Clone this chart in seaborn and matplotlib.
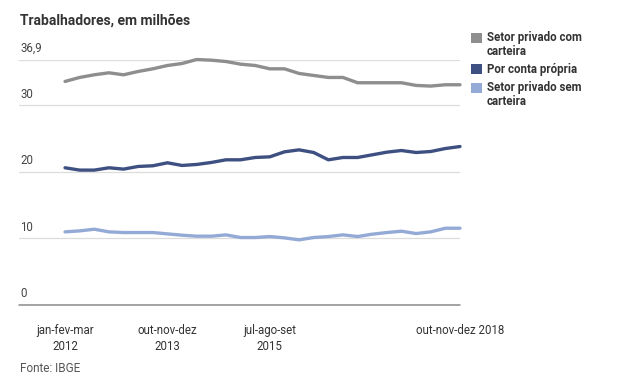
import numpy as np
import pandas as pd
import matplotlib
matplotlib.use("Agg")
import matplotlib.pyplot as plt
from matplotlib.patches import Patch, Rectangle
from matplotlib.legend_handler import HandlerPatch
import seaborn as sns

sns.set_style("white")
plt.rcParams['font.family'] = ['Roboto', 'DejaVu Sans']

# trimestres 2012 T1 .. 2018 T4
trimestres = [f"{t} {a}" for a in range(2012, 2019)
              for t in ["jan-fev-mar", "abr-mai-jun", "jul-ago-set", "out-nov-dez"]]

com_carteira = [33.6, 34.2, 34.6, 34.9, 34.6, 35.1, 35.5, 36.0, 36.3, 36.9,
                36.8, 36.6, 36.2, 36.0, 35.5, 35.5, 34.8, 34.5, 34.2, 34.2,
                33.4, 33.4, 33.4, 33.4, 33.0, 32.9, 33.1, 33.1]
conta_propria = [20.6, 20.25, 20.25, 20.6, 20.4, 20.8, 20.9, 21.35, 20.95, 21.1,
                 21.4, 21.8, 21.8, 22.15, 22.25, 23.0, 23.3, 22.9, 21.8, 22.15,
                 22.15, 22.55, 22.95, 23.2, 22.9, 23.05, 23.5, 23.8]
sem_carteira = [10.95, 11.1, 11.35, 10.95, 10.85, 10.85, 10.85, 10.65, 10.45, 10.3,
                10.3, 10.5, 10.1, 10.1, 10.25, 10.05, 9.75, 10.1, 10.25, 10.5,
                10.25, 10.6, 10.85, 11.05, 10.7, 10.95, 11.5, 11.5]

series = ["Setor privado com\ncarteira", "Por conta própria", "Setor privado sem\ncarteira"]
cores = ["#8e8e8e", "#3e5081", "#94aad6"]

yticks = [0, 10, 20, 30, 36.9]
ytick_labels = ["0", "10", "20", "30", "36,9"]
xtick_pos = [0, 7, 14, 27]
xtick_labels = ["jan-fev-mar\n2012", "out-nov-dez\n2013", "jul-ago-set\n2015", "out-nov-dez 2018"]

df = pd.DataFrame({
    "idx": list(range(len(trimestres))) * 3,
    "trimestre": trimestres * 3,
    "valor": com_carteira + conta_propria + sem_carteira,
    "serie": [s for s in series for _ in trimestres],
})

fig = plt.figure(figsize=(6.2, 3.82), dpi=100)
ax = fig.add_axes([0.0306, 0.2026, 0.7113, 0.6416])

sns.lineplot(data=df, x="idx", y="valor", hue="serie", palette=dict(zip(series, cores)),
             linewidth=2.4, legend=False, ax=ax, clip_on=False)

ax.set_xlim(-3.15, 27)
ax.set_ylim(0, 36.9)
for v in yticks[1:]:
    ax.axhline(v, color="#dcdcdc", linewidth=0.9, zorder=0)
ax.axhline(0, color="#8a8a8a", linewidth=1.1, zorder=1, clip_on=False)
for v, lab in zip(yticks, ytick_labels):
    ax.text(-3.05, v + 0.7, lab, fontsize=8.3, color="#444444", ha="left", va="bottom")

ax.set_yticks([])
ax.set_xticks(xtick_pos)
ax.set_xticklabels(xtick_labels, fontsize=8.3, color="#333333", linespacing=1.3)
ax.tick_params(axis="x", length=0, pad=14)
ax.set_xlabel("")
ax.set_ylabel("")
sns.despine(ax=ax, left=True, bottom=True)

fig.text(0.032, 0.945, "Trabalhadores, em milhões", fontsize=10, fontweight="bold",
         color="#333333", ha="left", va="center")
fig.text(0.032, 0.035, "Fonte: IBGE", fontsize=8.5, color="#555555", ha="left", va="center")


# quadrado alinhado com a primeira linha do rótulo
def quadrado_topo(legend, orig_handle, xdescent, ydescent, width, height, fontsize):
    return Rectangle((-xdescent, -ydescent + 5.6), width, height)


handles = [Patch(facecolor=c, edgecolor="none") for c in cores]
hmap = {handles[0]: HandlerPatch(patch_func=quadrado_topo),
        handles[2]: HandlerPatch(patch_func=quadrado_topo)}
leg = fig.legend(handles, series, loc="upper left", bbox_to_anchor=(0.752, 0.93),
                 frameon=False, prop={"weight": "bold", "size": 8.3},
                 handlelength=0.95, handleheight=0.95, handletextpad=0.45,
                 labelspacing=0.45, borderaxespad=0, handler_map=hmap)
for t in leg.get_texts():
    t.set_color("#333333")
    t.set_linespacing(1.05)

fig.savefig("out.png", dpi=100)
